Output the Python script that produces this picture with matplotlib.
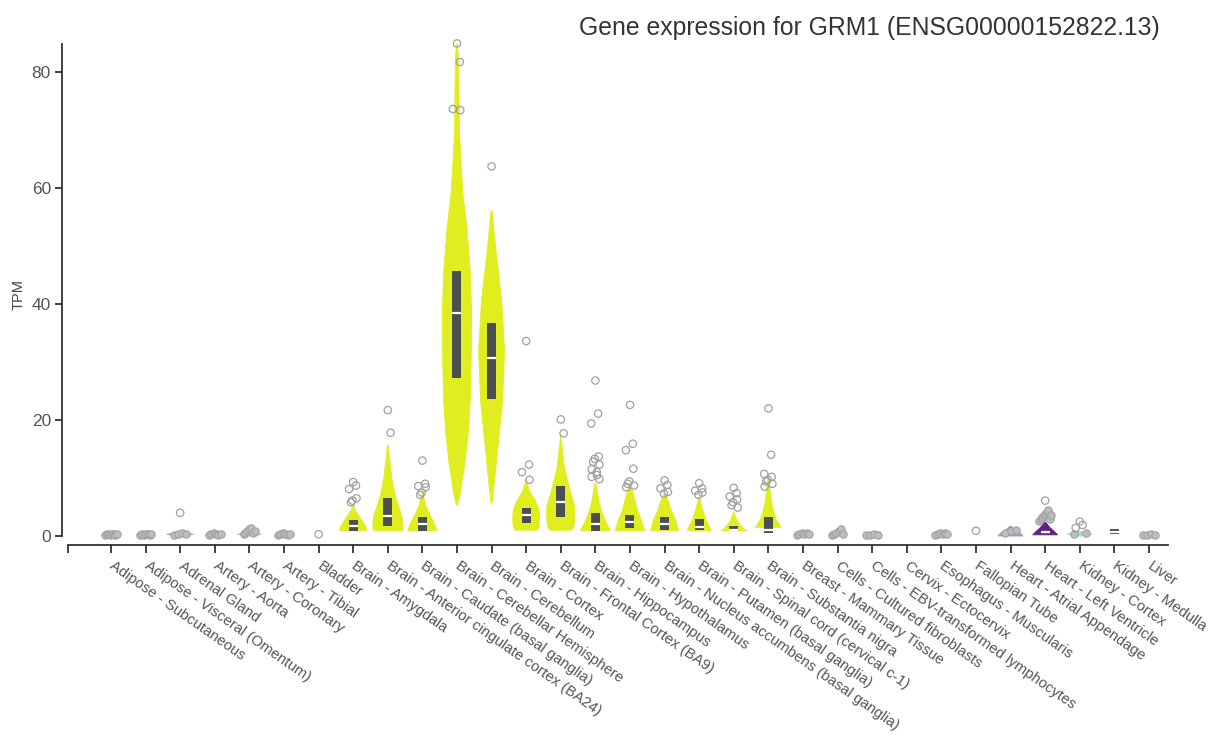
#!/usr/bin/env python3

import numpy as np
import matplotlib.pyplot as plt
from matplotlib.patches import Polygon, Rectangle

plt.rcParams['font.family'] = ['Liberation Sans', 'DejaVu Sans']

# Tissues on the x axis
tissues = [
    "Adipose - Subcutaneous", "Adipose - Visceral (Omentum)", "Adrenal Gland",
    "Artery - Aorta", "Artery - Coronary", "Artery - Tibial", "Bladder",
    "Brain - Amygdala", "Brain - Anterior cingulate cortex (BA24)",
    "Brain - Caudate (basal ganglia)", "Brain - Cerebellar Hemisphere",
    "Brain - Cerebellum", "Brain - Cortex", "Brain - Frontal Cortex (BA9)",
    "Brain - Hippocampus", "Brain - Hypothalamus",
    "Brain - Nucleus accumbens (basal ganglia)", "Brain - Putamen (basal ganglia)",
    "Brain - Spinal cord (cervical c-1)", "Brain - Substantia nigra",
    "Breast - Mammary Tissue", "Cells - Cultured fibroblasts",
    "Cells - EBV-transformed lymphocytes", "Cervix - Ectocervix",
    "Esophagus - Muscularis", "Fallopian Tube", "Heart - Atrial Appendage",
    "Heart - Left Ventricle", "Kidney - Cortex", "Kidney - Medulla", "Liver",
]

BRAIN = "#E0EE20"

# Violin body: colour, TPM levels and full width (fraction of a category slot)
violin_colors = {
    2: "#86C486", 4: "#CBB9B9", 7: BRAIN, 8: BRAIN, 9: BRAIN, 10: BRAIN,
    11: BRAIN, 12: BRAIN, 13: BRAIN, 14: BRAIN, 15: BRAIN, 16: BRAIN,
    17: BRAIN, 18: BRAIN, 19: BRAIN, 26: "#A898BC", 27: "#5F2183",
    28: "#92DEDC",
}
violin_levels = {
    2: [0.0, 0.3, 0.7],
    4: [0.0, 0.3, 0.7],
    7: [0.9, 1.5, 2.5, 3.5, 4.5, 5.4],
    8: [0.9, 2.0, 3.5, 5.0, 7.0, 10.0, 13.0, 15.7],
    9: [0.9, 1.5, 2.5, 3.5, 5.0, 6.5, 7.6],
    10: [5.3, 7, 12.6, 18, 24, 30, 38.6, 45, 53, 58.7, 64.5, 70, 76, 82, 85],
    11: [5.7, 8.0, 14.8, 23.4, 32.0, 40.7, 49.0, 56.0],
    12: [1.0, 1.5, 2.8, 4.5, 6.2, 7.7, 9.1, 9.8],
    13: [1.0, 1.5, 2.8, 5.1, 7.4, 9.7, 12.0, 14.3, 16.6, 17.4],
    14: [0.9, 1.3, 2.2, 3.9, 5.6, 7.4, 9.1],
    15: [0.9, 1.3, 2.8, 4.5, 6.2, 7.9, 8.6],
    16: [0.9, 1.3, 2.8, 4.5, 6.2, 7.4],
    17: [0.9, 1.3, 2.8, 4.5, 5.8, 6.8],
    18: [0.9, 1.2, 1.9, 2.8, 3.6, 4.2],
    19: [1.5, 2.0, 2.8, 5.1, 7.4, 10.2],
    26: [0.0, 0.5, 1.0, 1.7],
    27: [0.2, 0.8, 1.5, 2.4],
    28: [0.0, 0.3, 0.8],
}
violin_widths = {
    2: [0.3, 0.78, 0.03],
    4: [0.3, 0.7, 0.03],
    7: [0.78, 0.75, 0.55, 0.32, 0.12, 0.015],
    8: [0.84, 0.87, 0.81, 0.64, 0.43, 0.23, 0.12, 0.015],
    9: [0.84, 0.78, 0.64, 0.46, 0.23, 0.09, 0.015],
    10: [0.03, 0.17, 0.46, 0.66, 0.78, 0.82, 0.84, 0.78, 0.58, 0.35, 0.23,
         0.14, 0.12, 0.09, 0.03],
    11: [0.03, 0.12, 0.35, 0.64, 0.75, 0.58, 0.26, 0.03],
    12: [0.64, 0.75, 0.78, 0.75, 0.52, 0.2, 0.06, 0.015],
    13: [0.64, 0.75, 0.81, 0.81, 0.58, 0.38, 0.2, 0.12, 0.03, 0.01],
    14: [0.87, 0.81, 0.64, 0.4, 0.23, 0.12, 0.03],
    15: [0.87, 0.81, 0.66, 0.43, 0.29, 0.12, 0.015],
    16: [0.81, 0.78, 0.64, 0.38, 0.2, 0.015],
    17: [0.69, 0.64, 0.4, 0.2, 0.09, 0.015],
    18: [0.75, 0.58, 0.38, 0.17, 0.06, 0.015],
    19: [0.75, 0.64, 0.46, 0.23, 0.12, 0.015],
    26: [0.72, 0.58, 0.29, 0.03],
    27: [0.72, 0.52, 0.26, 0.03],
    28: [0.3, 0.72, 0.03],
}

# Box: (q1, median, q3)
boxes = {
    7: (0.9, 1.8, 2.75), 8: (1.8, 3.5, 6.6), 9: (0.9, 2.1, 3.3),
    10: (27.2, 38.5, 45.6), 11: (23.7, 30.6, 36.7), 12: (2.2, 3.6, 4.9),
    13: (3.3, 5.8, 8.6), 14: (0.9, 2.1, 4.0), 15: (1.3, 2.4, 3.7),
    16: (1.0, 2.0, 3.3), 17: (1.0, 1.6, 2.9), 18: (0.9, 0.95, 1.8),
    19: (0.45, 0.95, 3.3), 27: (0.4, 0.65, 0.9), 29: (0.35, 0.75, 1.15),
}

# Outlier samples (open circles)
outliers = {
    2: [4.0], 6: [0.3],
    7: [9.3, 8.7, 8.1, 6.5, 6.1, 5.8],
    8: [21.7, 17.8],
    9: [13.0, 9.0, 8.6, 8.4, 7.5, 7.1],
    10: [84.9, 81.7, 73.6, 73.4],
    11: [63.7],
    12: [33.6, 12.3, 11.0, 9.7],
    13: [20.1, 17.7],
    14: [26.8, 21.1, 19.4, 13.7, 13.3, 12.8, 12.3, 11.5, 11.0, 10.5, 10.2, 9.8],
    15: [22.6, 15.9, 14.8, 11.6, 9.4, 9.0, 8.7, 8.4],
    16: [9.6, 8.8, 8.2, 7.6, 7.3],
    17: [9.1, 8.2, 7.8, 7.5, 7.1],
    18: [8.3, 7.4, 6.8, 6.3, 5.8, 5.3, 4.9],
    19: [22.0, 14.0, 10.7, 10.2, 9.7, 9.4, 9.0, 8.5],
    25: [0.9], 27: [6.1], 28: [2.5, 1.9, 1.4],
}

# Dense near-zero samples that pile up into grey blobs
clusters = {
    0: [0.2, 0.3, 0.4, 0.25, 0.35, 0.3, 0.2, 0.4],
    1: [0.15, 0.3, 0.25, 0.4, 0.3, 0.2, 0.35],
    2: [0.2, 0.35, 0.5, 0.3],
    3: [0.2, 0.3, 0.45, 0.35, 0.25, 0.4],
    4: [0.3, 0.6, 0.9, 1.2, 1.4, 0.5, 0.8],
    5: [0.2, 0.35, 0.45, 0.3, 0.25, 0.4],
    20: [0.2, 0.4, 0.5, 0.3, 0.6, 0.35],
    21: [0.2, 0.35, 0.5, 0.8, 1.2, 0.3],
    22: [0.1, 0.2, 0.3, 0.25],
    24: [0.2, 0.35, 0.5, 0.3, 0.6, 0.4],
    26: [0.5, 0.8, 1.0],
    27: [2.6, 2.9, 3.2, 3.5, 3.8, 4.1, 4.4, 3.0, 3.6],
    28: [0.3, 0.5],
    30: [0.1, 0.25, 0.3, 0.2],
}

title = "Gene expression for GRM1 (ENSG00000152822.13)"

fig = plt.figure(figsize=(12.1, 7.35), dpi=100)
ax = fig.add_axes([62 / 1210, 190 / 735, 1106 / 1210, 501 / 735])
ax.set_xlim(-1.416, 30.55)
ax.set_ylim(-1.55, 84.8)

# Violins
for i, levels in violin_levels.items():
    half = np.array(violin_widths[i]) / 2
    lv = np.array(levels)
    pts = np.concatenate([
        np.column_stack([i - half, lv]),
        np.column_stack([i + half, lv])[::-1],
    ])
    ax.add_patch(Polygon(pts, closed=True, facecolor=violin_colors[i],
                         edgecolor=violin_colors[i], lw=0.6, zorder=2))

# Boxes with white median line
box_w = 0.26
for i, (q1, med, q3) in boxes.items():
    ax.add_patch(Rectangle((i - box_w / 2, q1), box_w, q3 - q1,
                           facecolor="#4B4F4F", edgecolor="none", zorder=3))
    ax.plot([i - box_w / 2, i + box_w / 2], [med, med], color="white",
            lw=1.6, solid_capstyle="butt", zorder=4)

# Near-zero clusters
for i, vals in clusters.items():
    offs = np.linspace(-0.17, 0.17, len(vals))
    ax.scatter(i + offs, vals, s=28, facecolor="#BDBDBD", edgecolor="#A2A2A2",
               lw=0.8, zorder=5, clip_on=False)

# Outliers
for i, vals in outliers.items():
    offs = 0.12 * np.sin(np.arange(len(vals)) * 2.4)
    if len(vals) == 1:
        offs = np.zeros(1)
    ax.scatter(i + offs, vals, s=28, facecolor="none", edgecolor="#A0A0A0",
               lw=0.9, zorder=5, clip_on=False)

# Axes styling
for side in ("top", "right"):
    ax.spines[side].set_visible(False)
ax.spines["left"].set_bounds(0, 84.8)
ax.spines["bottom"].set_bounds(-1.24, 30.55)
for side in ("left", "bottom"):
    ax.spines[side].set_color("#333333")
    ax.spines[side].set_linewidth(1.3)

ax.set_yticks([0, 20, 40, 60, 80])
ax.tick_params(axis="y", length=5, width=1.3, color="#333333",
               labelsize=12.5, labelcolor="#555555", pad=3)
ax.set_ylabel("TPM", fontsize=10.5, color="#444444", labelpad=4)

ax.set_xticks([-1.24] + list(range(len(tissues))))
ax.set_xticklabels([""] + tissues)
ax.tick_params(axis="x", length=6, width=1.3, color="#333333",
               labelsize=10.7, labelcolor="#555555", pad=8)
for lab in ax.get_xticklabels():
    lab.set_rotation(-35)
    lab.set_ha("left")
    lab.set_va("center")
    lab.set_rotation_mode("anchor")

fig.text(1160 / 1210, 1 - 28 / 735, title, ha="right", va="center",
         fontsize=17.8, color="#333333")

fig.savefig("out.png", dpi=100)
